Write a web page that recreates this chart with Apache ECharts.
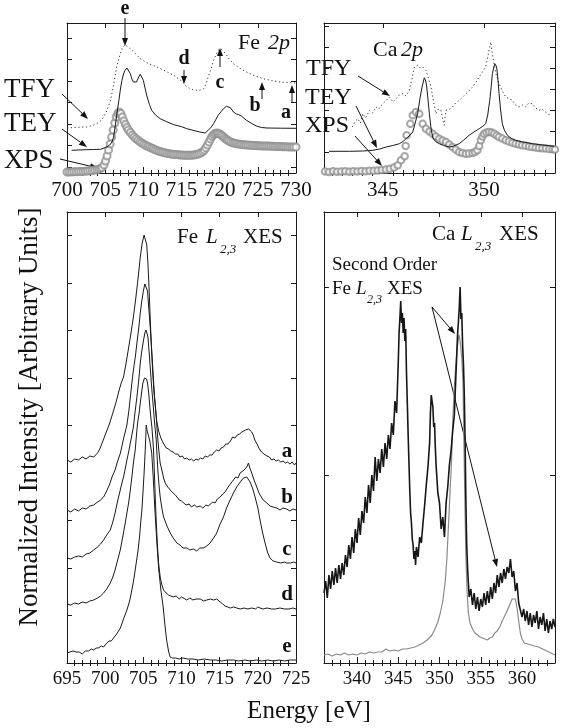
<!DOCTYPE html>
<html>
<head>
<meta charset="utf-8">
<script src="https://cdn.jsdelivr.net/npm/echarts@6/dist/echarts.min.js"></script>
<style>
  html, body { margin: 0; padding: 0; background: #fff; }
  #chart { width: 562px; height: 728px; }
</style>
</head>
<body>
<div id="chart"></div>
<script>
// ---- data (energy in eV, intensity in arbitrary units) ----

// Fe 2p absorption (top left)
const feTFY = [[700,45],[701,45.5],[702,46],[702.6,46],[703.3,47.5],[703.9,49.3],[704.4,52],[704.8,56],[705.2,62],[705.7,72.7],[706.1,88],[706.5,106],[706.9,117],[707.2,124.3],[707.6,128.3],[708.3,124.3],[709,119],[709.6,114.3],[710.5,110],[711.8,106],[713,101.5],[714,97.7],[715,92],[715.7,86],[716.4,83.5],[717,82.7],[717.5,83],[717.9,84.3],[718.2,89],[718.5,96],[718.9,105],[719.2,112.7],[719.5,118],[719.8,122.7],[720.1,124.3],[720.3,124.3],[720.6,121],[720.9,117.7],[721.3,113.5],[721.8,109.3],[722.6,105],[723.5,101],[724.5,97.5],[725.7,94.3],[726.8,92.5],[727.9,91],[729,90.5],[730,90]];
const feTEY = [[700.6,22.7],[701.5,23],[702.5,23.3],[703.5,23.5],[704.4,23.7],[705.2,26],[705.6,28],[705.9,31],[706.1,36],[706.3,46],[706.55,60],[706.8,72.7],[707,84],[707.2,92.7],[707.4,99],[707.6,102.7],[707.85,105],[708.1,103],[708.3,99.3],[708.5,94],[708.7,91],[708.9,89.3],[709.1,91],[709.4,96],[709.6,98.7],[709.8,97],[710,92.7],[710.25,84],[710.5,76],[710.8,68.5],[711.1,62.7],[711.6,58],[712.2,54.3],[713,51.5],[714,48.3],[715,46.3],[715.7,44.3],[716.5,42.7],[717.4,41],[718.1,40],[718.5,42.7],[718.9,46],[719.2,49.3],[719.5,53.5],[719.8,57.7],[720.2,61.5],[720.5,64.3],[720.9,66.7],[721.4,65.3],[721.8,61],[722.2,59],[722.5,58.3],[722.9,56.7],[723.5,52.7],[724.2,49.5],[724.9,46.7],[725.5,45.5],[726.2,45],[728,44.8],[730,44.7]];
const feXPS = [[700,1],[700.3,1],[700.6,1.1],[700.9,1.2],[701.2,1.3],[701.5,1.4],[701.8,1.5],[702.1,1.6],[702.4,1.8],[702.7,2],[703,2.2],[703.3,2.5],[703.6,2.9],[703.9,3.3],[704.15,3.8],[704.4,4.5],[704.6,5.5],[704.85,8],[705.05,12],[705.25,17],[705.45,23],[705.65,29],[705.85,36],[706.05,43],[706.25,50],[706.45,56],[706.65,59.5],[706.85,61],[707.05,59.5],[707.25,56],[707.45,52],[707.65,48.5],[707.85,45.5],[708.05,43],[708.3,40.5],[708.55,38],[708.8,36],[709.05,34.3],[709.3,32.7],[709.55,31.3],[709.8,30],[710.05,28.8],[710.3,27.8],[710.55,26.8],[710.8,26],[711.05,25],[711.3,24.2],[711.55,23.3],[711.8,22.6],[712.05,21.8],[712.3,21.2],[712.55,20.7],[712.8,20.2],[713.05,19.8],[713.3,19.4],[713.55,19.1],[713.8,18.8],[714.05,18.6],[714.3,18.4],[714.55,18.2],[714.8,18],[715.05,17.9],[715.3,17.8],[715.55,17.7],[715.8,17.7],[716.05,17.7],[716.3,17.8],[716.55,18],[716.8,18.3],[717.05,18.7],[717.3,19.3],[717.55,20.2],[717.8,21.5],[718,23],[718.2,25.3],[718.4,28],[718.6,31],[718.8,34],[719,36.5],[719.2,38.3],[719.4,39.5],[719.6,40],[719.8,39.8],[720,39],[720.2,38],[720.4,36.7],[720.6,35.3],[720.8,34],[721,33],[721.2,32],[721.45,31],[721.7,30.3],[721.95,29.7],[722.2,29.2],[722.45,28.9],[722.7,28.7],[722.95,28.5],[723.2,28.3],[723.45,28.1],[723.7,28],[723.95,27.8],[724.2,27.7],[724.45,27.5],[724.7,27.4],[724.95,27.3],[725.2,27.2],[725.45,27.1],[725.7,27],[725.95,27],[726.2,27],[726.45,26.9],[726.7,26.8],[726.95,26.7],[727.2,26.6],[727.45,26.5],[727.7,26.5],[727.95,26.4],[728.2,26.3],[728.45,26.3],[728.7,26.2],[728.95,26.1],[729.2,26.1],[729.45,26],[729.7,26],[730,26]];

// Ca 2p absorption (top right)
const caTFY = [[343.5,46],[343.65,52],[343.77,54.3],[343.9,50],[344.02,59.3],[344.15,55],[344.35,62.7],[344.5,60],[344.67,66],[344.8,64],[345,69.3],[345.15,72],[345.33,76],[345.5,71],[345.66,74.3],[345.8,78],[345.99,79.3],[346.15,77],[346.31,82.7],[346.45,95],[346.56,106],[346.72,107.7],[346.85,105],[346.97,106],[347.13,102.7],[347.25,95],[347.38,86],[347.5,72],[347.62,59.3],[347.75,64],[347.87,62.7],[347.95,55],[348.03,47.7],[348.12,62.7],[348.3,64],[348.44,66],[348.6,70],[348.77,72.7],[348.95,76],[349.1,79.3],[349.25,82],[349.43,86],[349.6,91],[349.76,96],[349.92,101],[350.08,106],[350.2,118],[350.33,131],[350.42,118],[350.49,109.3],[350.6,98],[350.74,89.3],[350.9,82],[351.07,76],[351.25,74],[351.4,72.7],[351.55,68],[351.72,66],[351.9,68],[352.05,66],[352.2,70],[352.38,69.3],[352.55,65],[352.71,62.7],[352.85,64],[353.03,61],[353.15,59],[353.28,57.7]];
const caTEY = [[342.35,21.7],[343.36,21.7],[344,22],[344.51,22.7],[344.85,24],[345.17,26],[345.5,27.5],[345.82,29.3],[346,31.5],[346.15,34.3],[346.35,38],[346.48,41],[346.6,50],[346.72,59.3],[346.84,75],[346.94,86],[347.05,95.3],[347.12,92],[347.17,86],[347.24,72],[347.3,59.3],[347.38,45],[347.46,36],[347.6,31.5],[347.79,29.3],[348,27.5],[348.28,26],[348.5,27],[348.77,29.3],[349,33],[349.26,37.7],[349.5,41],[349.76,44.3],[349.95,47],[350.08,49.3],[350.18,58],[350.28,72.7],[350.35,86],[350.41,99.3],[350.47,105],[350.53,109.3],[350.58,108],[350.62,106],[350.68,95],[350.74,79.3],[350.82,62],[350.9,49.3],[351,43],[351.15,37.7],[351.35,34.5],[351.56,32.7],[351.9,31],[352.38,29.3],[352.9,28],[353.46,26.7]];
const caXPS = [[342.15,1.5],[342.35,1],[342.55,1.7],[342.75,1.2],[342.95,1.5],[343.15,1.8],[343.35,1.3],[343.55,1.8],[343.75,1.4],[343.95,2],[344.15,1.7],[344.35,2.2],[344.55,2.2],[344.75,2.6],[344.95,3],[345.15,3.5],[345.35,4.2],[345.55,5.5],[345.74,7.7],[345.9,12.7],[346.08,16.7],[346.13,27],[346.18,37.7],[346.36,49.3],[346.48,57.7],[346.64,61],[346.8,59.3],[346.97,49.3],[347.13,44.3],[347.3,41.5],[347.46,39.3],[347.62,36.5],[347.79,34.3],[347.95,32.5],[348.12,31],[348.28,28.5],[348.44,26],[348.6,23.5],[348.77,21],[348.93,20],[349.1,19.3],[349.26,19.5],[349.43,20],[349.55,21],[349.67,22.7],[349.76,27],[349.84,32.7],[349.92,36.5],[350,39.3],[350.12,40.5],[350.25,41],[350.38,40.5],[350.5,39.3],[350.62,37.5],[350.74,36],[350.9,34.5],[351.07,32.7],[351.23,31.5],[351.4,30.3],[351.56,29.3],[351.72,28.5],[351.88,27.8],[352.05,27.2],[352.22,26.5],[352.38,26],[352.55,25.5],[352.71,25.1],[352.88,24.7],[353.05,24.4],[353.22,24],[353.38,23.7],[353.5,23.5]];

// Fe L2,3 XES, curves a..e (bottom left, stacked)
const feXesA = [[695,203],[695.5,201],[696,204],[696.5,203],[697,206],[697.5,204],[698,207],[698.5,206],[699,210],[699.3,214],[699.6,220],[700,228],[700.3,234],[700.6,240],[701,250],[701.4,260],[701.8,272],[702.1,280],[702.4,286],[702.7,298],[703,312],[703.3,326],[703.7,346],[704,364],[704.3,384],[704.6,406],[704.85,420],[705.1,428],[705.3,426],[705.45,418],[705.6,400],[705.75,375],[705.9,345],[706.05,318],[706.2,295],[706.35,276],[706.5,262],[706.75,242],[707,232],[707.3,225],[707.6,220],[708,215],[708.3,214],[708.6,212],[708.9,211],[709.2,209],[709.5,209],[709.8,206],[710.1,207],[710.4,204],[710.7,205],[711,203],[711.3,204],[711.6,202],[711.9,204],[712.2,203],[712.5,205],[712.8,204],[713.1,207],[713.4,206],[713.7,208],[714,208],[714.3,211],[714.6,213],[714.9,212],[715.2,215],[715.5,216],[715.8,219],[716.1,219],[716.4,222],[716.7,226],[717,225],[717.3,228],[717.6,229],[717.9,231],[718.1,230],[718.4,233],[718.6,232],[718.8,234],[719,235],[719.2,231],[719.4,228],[719.6,223],[719.9,219],[720.2,214],[720.5,211],[720.8,209],[721.2,207],[721.5,206],[721.8,203],[722.1,204],[722.4,202],[722.7,203],[723,201],[723.3,202],[723.6,200],[723.9,201],[724.2,199],[724.5,201],[724.8,198],[725,200]];
const feXesB = [[695,153],[695.5,151],[696,154],[696.5,152],[697,155],[697.5,154],[698,157],[698.5,158],[699,161],[699.4,163],[699.8,166],[700.2,172],[700.6,179],[700.9,186],[701.3,193],[701.6,201],[702,210],[702.4,224],[702.85,238],[703.1,252],[703.3,266],[703.5,280],[703.7,293],[703.95,306],[704.16,320],[704.4,335],[704.6,350],[704.8,362],[705.03,373],[705.2,379],[705.3,381],[705.42,378],[705.55,372],[705.7,356],[705.9,336],[706.05,318],[706.25,293],[706.45,268],[706.7,246],[706.85,228],[707,215],[707.2,200],[707.43,193],[707.65,185],[707.87,180],[708.2,176],[708.52,173],[708.9,170],[709.2,168],[709.4,166],[709.7,163],[710,162],[710.26,160],[710.6,158],[711,159],[711.3,156],[711.7,158],[712,156],[712.45,157],[712.8,155],[713.2,158],[713.5,157],[713.75,159],[714.1,161],[714.4,160],[714.7,164],[715.06,166],[715.4,169],[715.7,171],[715.93,173],[716.2,177],[716.5,180],[716.8,183],[717.1,186],[717.4,185],[717.68,190],[717.9,192],[718.2,193],[718.4,195],[718.55,196],[718.77,200],[718.95,195],[719.2,190],[719.5,183],[719.86,176],[720.1,171],[720.3,168],[720.7,163],[721.17,160],[721.6,157],[722,156],[722.47,155],[722.9,153],[723.3,155],[723.78,154],[724.2,152],[724.6,154],[725,153]];
const feXesC = [[695,105],[695.5,104],[696,106],[696.5,107],[697,106],[697.5,109],[698,110],[698.5,113],[699,116],[699.4,119],[699.8,123],[700.2,128],[700.67,133],[701,141],[701.3,150],[701.6,161],[701.98,173],[702.2,180],[702.41,186],[702.65,195],[702.85,203],[703.1,212],[703.3,220],[703.5,228],[703.7,236],[703.9,250],[704.16,266],[704.4,283],[704.6,300],[704.8,312],[705.03,323],[705.2,330],[705.33,333],[705.47,330],[705.6,326],[705.75,312],[705.9,296],[706.1,275],[706.34,253],[706.5,238],[706.69,223],[706.9,193],[707.05,178],[707.21,166],[707.4,156],[707.65,146],[708.1,137],[708.52,130],[709,124],[709.4,120],[709.8,118],[710.2,115],[710.7,115],[711.1,113],[711.57,114],[712,112],[712.4,115],[712.88,115],[713.3,117],[713.75,120],[714.2,125],[714.62,130],[715,138],[715.5,146],[715.9,155],[716.37,163],[716.8,170],[717.24,176],[717.7,181],[718.11,185],[718.35,186],[718.55,186],[718.8,184],[718.99,181],[719.3,175],[719.64,166],[720,155],[720.29,143],[720.6,131],[720.95,120],[721.3,110],[721.6,105],[722,102],[722.47,101],[723,100],[723.5,101],[723.78,100],[724.3,100],[724.7,101],[725,100]];
const feXesD = [[695,59],[695.5,58],[696,60],[696.5,59],[697,61],[697.5,60],[698,62],[698.5,63],[699,65],[699.4,67],[699.8,70],[700.2,74],[700.67,80],[701,86],[701.3,93],[701.6,102],[701.98,113],[702.3,126],[702.63,140],[702.85,150],[703.07,160],[703.3,173],[703.5,186],[703.7,200],[703.94,213],[704.1,228],[704.25,240],[704.45,250],[704.6,260],[704.8,272],[704.94,280],[705.15,285],[705.29,286],[705.42,284],[705.55,280],[705.7,270],[705.81,260],[705.95,248],[706.12,236],[706.34,213],[706.45,190],[706.56,166],[706.7,140],[706.86,116],[707,100],[707.21,86],[707.4,79],[707.65,73],[708,70],[708.3,68],[708.52,69],[708.9,66],[709.3,67],[709.7,64],[710,66],[710.26,65],[710.7,63],[711.1,65],[711.5,63],[711.9,64],[712.45,64],[712.9,62],[713.3,63],[713.8,64],[714.19,63],[714.6,64],[715.06,61],[715.4,59],[715.7,57],[715.93,56],[716.4,55],[716.8,56],[717.24,55],[717.7,54],[718.2,55],[718.7,54],[719.2,55],[719.7,54],[720,56],[720.29,55],[720.7,54],[721.2,55],[721.8,54],[722.3,54],[722.9,55],[723.5,54],[724.1,54],[724.6,55],[725,54]];
const feXesE = [[695,10],[695.4,11],[695.8,12],[696.2,11],[696.6,11],[697,9],[697.4,12],[697.8,12],[698.2,14],[698.5,13],[698.8,15],[699.1,15],[699.5,17],[699.8,16],[700.1,19],[700.5,22],[700.8,22],[701.1,25],[701.5,29],[702,35],[702.4,44],[702.85,53],[703.2,62],[703.5,73],[703.8,86],[704.07,100],[704.3,112],[704.5,126],[704.65,140],[704.81,153],[704.95,170],[705.1,190],[705.25,213],[705.38,238],[705.5,232],[705.65,228],[705.85,222],[706.1,210],[706.3,185],[706.5,155],[706.75,123],[707,95],[707.3,73],[707.6,56],[707.8,40],[708.05,23],[708.3,12],[708.5,6],[708.8,5],[709.2,5],[709.7,4],[710.2,5],[710.8,4],[711.5,4],[712.2,3],[713,4],[713.8,3],[714.5,3],[715.3,2],[716,3],[716.8,3],[717.5,2],[718.3,3],[719,2],[719.8,3],[720.5,2],[721.3,3],[722,2],[722.8,3],[723.5,2],[724.2,3],[725,3]];

// Ca L2,3 XES (bottom right): measured curve and grey reference
const caXesBlack = [[336,70],[336.2,82],[336.4,65],[336.6,88],[336.8,74],[337,92],[337.2,78],[337.4,95],[337.6,80],[337.8,98],[338,84],[338.2,100],[338.4,88],[338.6,108],[338.8,96],[339,118],[339.2,104],[339.4,126],[339.6,110],[339.8,134],[340,120],[340.2,145],[340.4,128],[340.6,152],[340.8,140],[341,166],[341.2,150],[341.4,178],[341.6,160],[341.8,188],[342,172],[342.2,206],[342.4,182],[342.6,204],[342.8,190],[343,214],[343.2,196],[343.4,220],[343.6,204],[343.8,228],[344,214],[344.2,240],[344.4,228],[344.6,262],[344.8,250],[345,300],[345.1,330],[345.2,345],[345.3,362],[345.4,340],[345.5,350],[345.6,330],[345.7,345],[345.8,322],[345.9,334],[346,290],[346.1,260],[346.2,228],[346.3,200],[346.4,172],[346.5,150],[346.6,140],[346.7,124],[346.8,118],[346.9,104],[347,112],[347.1,98],[347.2,116],[347.4,106],[347.6,126],[347.8,120],[348,140],[348.2,158],[348.4,178],[348.6,196],[348.8,220],[348.9,250],[349,268],[349.1,262],[349.2,256],[349.3,236],[349.4,240],[349.5,214],[349.6,196],[349.8,170],[350,160],[350.2,134],[350.4,146],[350.6,126],[350.8,160],[351,176],[351.2,198],[351.4,212],[351.6,232],[351.8,248],[352,290],[352.1,310],[352.2,330],[352.3,342],[352.4,356],[352.5,376],[352.6,344],[352.7,350],[352.8,318],[352.9,300],[353,270],[353.1,224],[353.2,160],[353.3,118],[353.4,96],[353.5,80],[353.6,66],[353.8,74],[354,58],[354.2,70],[354.4,54],[354.6,66],[354.8,52],[355,64],[355.2,56],[355.4,70],[355.6,58],[355.8,72],[356,60],[356.2,76],[356.4,64],[356.6,80],[356.8,70],[357,88],[357.2,76],[357.4,90],[357.6,80],[357.8,94],[358,84],[358.2,96],[358.4,90],[358.6,104],[358.8,86],[359,92],[359.2,72],[359.4,80],[359.6,60],[359.8,62],[360,46],[360.2,54],[360.4,42],[360.6,52],[360.8,38],[361,50],[361.2,36],[361.4,48],[361.6,40],[361.8,52],[362,34],[362.2,46],[362.4,38],[362.6,50],[362.8,32],[363,44],[363.2,30],[363.4,42],[363.6,34],[363.8,44],[364,36]];
const caXesGray = [[336,8],[336.5,9],[337,7],[337.5,9],[338,8],[338.5,10],[339,8],[339.5,9],[340,8],[340.5,10],[341,9],[341.5,11],[342,10],[342.5,11],[343,11],[343.5,14],[344,12],[344.5,13],[345,12],[345.5,14],[346,14],[346.5,15],[347,16],[347.5,18],[348,20],[348.5,23],[349,27],[349.4,33],[349.8,41],[350.1,50],[350.4,62],[350.7,82],[350.9,105],[351.1,140],[351.3,175],[351.45,200],[351.6,240],[351.75,268],[351.9,290],[352,300],[352.15,315],[352.3,325],[352.4,328],[352.55,318],[352.7,305],[352.85,280],[353,200],[353.1,150],[353.2,106],[353.35,70],[353.5,50],[353.7,40],[354,34],[354.3,30],[354.6,28],[354.9,26],[355.2,25],[355.5,24],[355.8,23],[356.1,25],[356.4,26],[356.7,30],[357,32],[357.3,36],[357.6,42],[357.9,47],[358.2,52],[358.5,58],[358.8,64],[359,66],[359.2,64],[359.4,55],[359.6,42],[359.8,30],[360,24],[360.3,20],[360.7,19],[361.1,18],[361.5,17],[362,16],[362.5,14],[363,12],[363.5,10],[364,8]];

// tick positions
const feAbsMajor = [700, 705, 710, 715, 720, 725, 730];
const feAbsMinor = [701,702,703,704,706,707,708,709,711,712,713,714,716,717,718,719,721,722,723,724,726,727,728,729];
const caAbsMajor = [345, 350];
const caAbsMinor = [342.5,343,343.5,344,344.5,345.5,346,346.5,347,347.5,348,348.5,349,349.5,350.5,351,351.5,352,352.5,353];
const feXesMajor = [695, 700, 705, 710, 715, 720, 725];
const feXesMinor = [696,697,698,699,701,702,703,704,706,707,708,709,711,712,713,714,716,717,718,719,721,722,723,724];
const caXesMajor = [340, 345, 350, 355, 360];
const caXesMinor = [337,338,339,341,342,343,344,346,347,348,349,351,352,353,354,356,357,358,359,361,362,363];
const absYTicks = [6, 27.5, 49, 70.5, 92, 113.5, 135];
const caAbsYTicks = [21, 42, 63, 84, 105, 126, 147];
const feXesYTicks = [47.5, 95, 142.5, 190, 237.5, 285, 332.5, 380, 427.5];
const caXesYTicks = [188, 376];

const FONT = '"Liberation Serif", "Times New Roman", serif';
const INK = '#1a1a1a';

const grids = [
  { left: 67, top: 23, width: 229, height: 150 },
  { left: 324, top: 23, width: 231, height: 150 },
  { left: 67, top: 212, width: 229, height: 451 },
  { left: 324, top: 212, width: 231, height: 451 }
];

const xAxes = [];
const yAxes = [];

function addPanel(g, xMin, xMax, yMax, major, minor, yTicks, labelSize, labelMargin) {
  const line = { show: true, onZero: false, lineStyle: { color: INK, width: 1 } };
  const noLine = { show: false };
  const base = { gridIndex: g, type: 'value', min: xMin, max: xMax, offset: 0, splitLine: { show: false } };
  xAxes.push(Object.assign({}, base, {
    position: 'bottom', axisLine: line,
    axisTick: { show: true, inside: true, length: 6, customValues: major, lineStyle: { color: INK } },
    axisLabel: { show: true, customValues: major, showMinLabel: true, showMaxLabel: true,
      fontFamily: FONT, fontSize: labelSize, color: '#111', margin: labelMargin }
  }));
  xAxes.push(Object.assign({}, base, {
    position: 'bottom', axisLine: noLine,
    axisTick: { show: true, inside: true, length: 3, customValues: minor, lineStyle: { color: INK } },
    axisLabel: { show: false }
  }));
  xAxes.push(Object.assign({}, base, {
    position: 'top', axisLine: line,
    axisTick: { show: true, inside: true, length: 5, customValues: major, lineStyle: { color: INK } },
    axisLabel: { show: false }
  }));
  xAxes.push(Object.assign({}, base, {
    position: 'top', axisLine: noLine,
    axisTick: { show: true, inside: true, length: 3, customValues: minor, lineStyle: { color: INK } },
    axisLabel: { show: false }
  }));
  ['left', 'right'].forEach(function (pos) {
    yAxes.push({
      gridIndex: g, type: 'value', min: 0, max: yMax, position: pos, offset: 0,
      axisLine: line,
      axisTick: { show: true, inside: true, length: 5, customValues: yTicks, lineStyle: { color: INK } },
      axisLabel: { show: false },
      splitLine: { show: false }
    });
  });
}

addPanel(0, 700, 730, 150, feAbsMajor, feAbsMinor, absYTicks, 21, 7);
addPanel(1, 342.1, 353.5, 150, caAbsMajor, caAbsMinor, caAbsYTicks, 21, 7);
addPanel(2, 695, 725, 451, feXesMajor, feXesMinor, feXesYTicks, 19, 7);
addPanel(3, 336, 364, 451, caXesMajor, caXesMinor, caXesYTicks, 19, 7);

function lineSeries(g, data, color, width, type) {
  return {
    type: 'line', xAxisIndex: 4 * g, yAxisIndex: 2 * g, data: data,
    symbol: 'none', showSymbol: false, silent: true, animation: false,
    lineStyle: { color: color, width: width, type: type || 'solid' }
  };
}
function circleSeries(g, data, size) {
  return {
    type: 'scatter', xAxisIndex: 4 * g, yAxisIndex: 2 * g, data: data,
    symbol: 'emptyCircle', symbolSize: size, silent: true, animation: false,
    itemStyle: { color: '#909090', borderColor: '#909090', borderWidth: 1 }
  };
}

const series = [
  circleSeries(0, feXPS, 7),
  lineSeries(0, feTFY, '#333', 1, [1.2, 2.6]),
  lineSeries(0, feTEY, INK, 1),
  circleSeries(1, caXPS, 6.5),
  lineSeries(1, caTFY, '#333', 1, [1.2, 2.6]),
  lineSeries(1, caTEY, INK, 1),
  lineSeries(2, feXesA, INK, 1),
  lineSeries(2, feXesB, INK, 1),
  lineSeries(2, feXesC, INK, 1),
  lineSeries(2, feXesD, INK, 1),
  lineSeries(2, feXesE, INK, 1),
  lineSeries(3, caXesGray, '#8a8a8a', 1.2),
  lineSeries(3, caXesBlack, '#161616', 1.6)
];

// ---- annotations (pixel positions) ----
const graphics = [];
function txt(x, y, text, size, opts) {
  opts = opts || {};
  graphics.push({
    type: 'text', x: x, y: y, rotation: opts.rotation || 0, silent: true,
    style: {
      text: text, fill: '#111',
      font: (opts.italic ? 'italic ' : '') + (opts.bold ? 'bold ' : '') + size + 'px ' + FONT,
      textAlign: opts.align || 'left', align: opts.align || 'left',
      textVerticalAlign: opts.valign || 'middle', verticalAlign: opts.valign || 'middle'
    }
  });
}
function arrow(x1, y1, x2, y2) {
  const ang = Math.atan2(y2 - y1, x2 - x1);
  const L = 8, W = 3;
  const bx = x2 - L * Math.cos(ang), by = y2 - L * Math.sin(ang);
  const px = -Math.sin(ang) * W, py = Math.cos(ang) * W;
  graphics.push({ type: 'line', silent: true, shape: { x1: x1, y1: y1, x2: bx, y2: by }, style: { stroke: '#111', lineWidth: 1 } });
  graphics.push({ type: 'polygon', silent: true, shape: { points: [[x2, y2], [bx + px, by + py], [bx - px, by - py]] }, style: { fill: '#111' } });
}

// top-left
txt(125, 9, 'e', 20, { bold: true, align: 'center' });
arrow(125, 18, 125, 46);
txt(184, 59, 'd', 20, { bold: true, align: 'center' });
arrow(184, 70, 184, 84);
arrow(220, 67, 220, 48);
txt(220, 83, 'c', 20, { bold: true, align: 'center' });
arrow(262, 99, 262, 82);
txt(255, 106, 'b', 20, { bold: true, align: 'center' });
arrow(292, 103, 292, 85);
txt(286, 113, 'a', 20, { bold: true, align: 'center' });
txt(238, 43, 'Fe', 22);
txt(268, 43, '2p', 22, { italic: true });
txt(4, 90, 'TFY', 27);
arrow(62, 94, 88, 119);
txt(4, 124, 'TEY', 27);
arrow(62, 129, 87, 147);
txt(4, 161, 'XPS', 27);
arrow(60, 159, 98, 168);

// top-right
txt(373, 50, 'Ca', 22);
txt(401, 50, '2p', 22, { italic: true });
txt(306, 69, 'TFY', 24);
arrow(358, 76, 390, 96);
txt(305, 98, 'TEY', 24);
arrow(356, 106, 377, 148);
txt(305, 126, 'XPS', 24);
arrow(355, 136, 382, 166);

// bottom-left
txt(177, 237, 'Fe', 21);
txt(206, 237, 'L', 21, { italic: true });
txt(220, 250, '2,3', 13, { italic: true });
txt(243, 237, 'XES', 21);
txt(287, 452, 'a', 21, { bold: true, align: 'center' });
txt(287, 498, 'b', 21, { bold: true, align: 'center' });
txt(287, 550, 'c', 21, { bold: true, align: 'center' });
txt(287, 595, 'd', 21, { bold: true, align: 'center' });
txt(287, 647, 'e', 21, { bold: true, align: 'center' });

// bottom-right
txt(432, 234, 'Ca', 21);
txt(461, 234, 'L', 21, { italic: true });
txt(475, 247, '2,3', 13, { italic: true });
txt(499, 234, 'XES', 21);
txt(332, 265, 'Second Order', 19);
txt(332, 289, 'Fe', 19);
txt(356, 289, 'L', 19, { italic: true });
txt(367, 300, '2,3', 12, { italic: true });
txt(387, 289, 'XES', 19);
arrow(432, 307, 455, 334);
arrow(432, 307, 497, 567);

// axis titles
txt(30, 417, 'Normalized Intensity [Arbitrary Units]', 27, { align: 'center', rotation: Math.PI / 2 });
txt(309, 711, 'Energy [eV]', 25, { align: 'center' });

const chart = echarts.init(document.getElementById('chart'), null, { renderer: 'canvas' });
chart.setOption({
  backgroundColor: '#fff',
  animation: false,
  grid: grids,
  xAxis: xAxes,
  yAxis: yAxes,
  series: series,
  graphic: graphics
});
</script>
</body>
</html>
